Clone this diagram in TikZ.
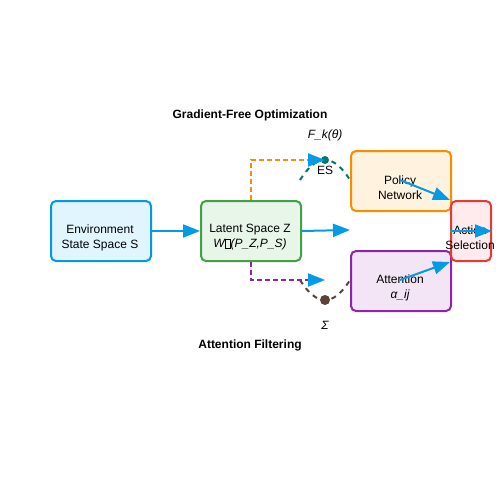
\documentclass[tikz,border=0pt]{standalone}
\usepackage{fontspec}
\setmainfont{Liberation Sans}
\usetikzlibrary{arrows.meta}
\definecolor{arblue}{HTML}{039BE5}
\definecolor{envfill}{HTML}{E1F5FE}
\definecolor{envline}{HTML}{0398DF}
\definecolor{latfill}{HTML}{E8F5E9}
\definecolor{latline}{HTML}{43A047}
\definecolor{polfill}{HTML}{FFF3E0}
\definecolor{polline}{HTML}{FB8C00}
\definecolor{attfill}{HTML}{F3E5F5}
\definecolor{attline}{HTML}{8E24AA}
\definecolor{actfill}{HTML}{FFEBEE}
\definecolor{actline}{HTML}{E53935}
\definecolor{esteal}{HTML}{00796B}
\definecolor{sigbrown}{HTML}{5D4037}
\newcommand{\tofuglyph}{\begingroup\setlength{\fboxsep}{0pt}\setlength{\fboxrule}{0.5pt}\fbox{\rule{0pt}{8.5pt}\hspace{5pt}}\endgroup}
\begin{document}
\begin{tikzpicture}[x=1pt,y=-1pt,
  box/.style={draw,line width=2pt,rounded corners=5pt,inner sep=0pt,anchor=north west},
  lbl/.style={font=\fontsize{12}{15}\selectfont,align=center,inner sep=0pt},
  ttl/.style={font=\fontsize{12}{15}\selectfont\bfseries,inner sep=0pt},
  flow/.style={draw=arblue,line width=2pt,-{Triangle[length=17pt,width=13pt]},fill=arblue},
  dflow/.style={line width=2pt,dash pattern=on 5pt off 3pt,-{Triangle[length=17pt,width=13pt,color=arblue,fill=arblue]}},
  arcline/.style={line width=2pt,dash pattern=on 5pt off 5pt}]
\useasboundingbox (0,0) rectangle (500,500);
% boxes
\node[box,fill=envfill,draw=envline,minimum width=100pt,minimum height=60pt] (env) at (50,200) {};
\node[box,fill=latfill,draw=latline,minimum width=100pt,minimum height=60pt] (latent) at (200,200) {};
\node[box,fill=polfill,draw=polline,minimum width=100pt,minimum height=60pt] (policy) at (350,150) {};
\node[box,fill=attfill,draw=attline,minimum width=100pt,minimum height=60pt] (attn) at (350,250) {};
\node[box,fill=actfill,draw=actline,minimum width=40pt,minimum height=60pt] (action) at (450,200) {};
% dots and arcs
\coordinate (arcAs) at (300,180);
\coordinate (arcAe) at (350,180);
\coordinate (arcBs) at (300,280);
\coordinate (arcBe) at (350,280);
\draw[arcline,draw=esteal] (arcAs) .. controls (316.7,153.3) and (333.3,153.3) .. (arcAe);
\draw[arcline,draw=sigbrown] (arcBs) .. controls (316.7,306.7) and (333.3,306.7) .. (arcBe);
\node[circle,fill=esteal,inner sep=0pt,minimum size=8pt] (esdot) at (325,160) {};
\node[circle,fill=sigbrown,inner sep=0pt,minimum size=10pt] (sigdot) at (325,300) {};
% texts
\node[lbl] (envtxt) at (100,237.5) {Environment\\State Space S};
\node[lbl] (lattxt) at (250,237.5) {Latent Space Z\\\itshape W\tofuglyph(P\_Z,P\_S)};
\node[lbl] (poltxt) at (400,188) {Policy\\Network};
\node[lbl] (atttxt) at (400,288) {Attention\\\itshape α\_ij};
\node[lbl] (acttxt) at (470,238) {Action\\Selection};
\node[lbl] (estxt) at (325,170.5) {ES};
\node[lbl,font=\fontsize{12}{15}\selectfont\itshape] (fktxt) at (325,135.5) {F\_k(θ)};
\node[lbl,font=\fontsize{12}{15}\selectfont\itshape] (sigtxt) at (325,325.5) {Σ};
\node[ttl] (gfo) at (250,115.5) {Gradient-Free Optimization};
\node[ttl] (af) at (250,345.5) {Attention Filtering};
% connectors
\coordinate (gap) at (350,230);
\coordinate (poldot) at (400,180);
\coordinate (attdot) at (400,280);
\draw[dflow,draw=polline] (latent.north) |- (esdot.center);
\draw[dflow,draw=attline] (latent.south) |- (sigdot.center |- 0,280);
\draw[flow] (env.east) -- (latent.west);
\draw[flow] (latent.east) -- (gap);
\draw[flow] (poldot) -- (action.north west);
\draw[flow] (attdot) -- (action.south west);
\draw[flow] (action.west) -- (action.east);
\end{tikzpicture}
\end{document}
